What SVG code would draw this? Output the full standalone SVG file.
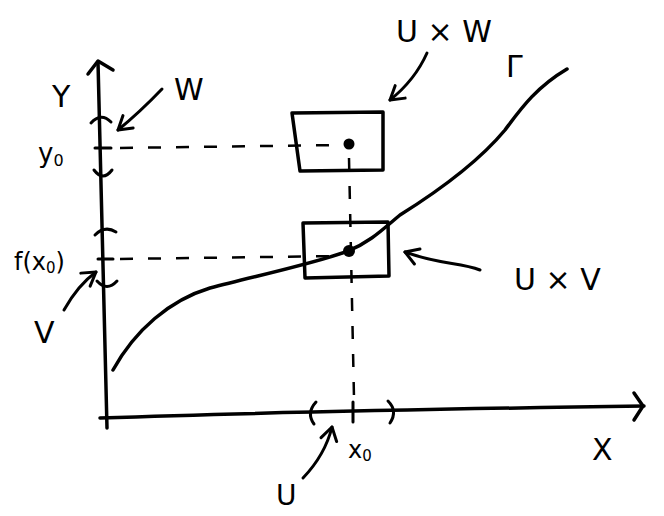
<svg xmlns="http://www.w3.org/2000/svg" width="664" height="516" viewBox="0 0 664 516">
<defs>
<style>
.ln{fill:none;stroke:#000;stroke-width:3.5;stroke-linecap:round;stroke-linejoin:round}
.th{fill:none;stroke:#000;stroke-width:3;stroke-linecap:round;stroke-linejoin:round}
.dash{fill:none;stroke:#000;stroke-width:2.5;stroke-dasharray:13 15}
.lbl{font-family:"DejaVu Sans","Liberation Sans",sans-serif;fill:#000}
.dot{fill:#000}
</style>
<marker id="chev" viewBox="0 0 20 20" refX="16" refY="10" markerWidth="20" markerHeight="20" markerUnits="userSpaceOnUse" orient="auto">
<path d="M3,2 L16,10 L3,18" fill="none" stroke="#000" stroke-width="3" stroke-linecap="round" stroke-linejoin="round"/>
</marker>
</defs>
<rect width="664" height="516" fill="#fff"/>

<g id="y-axis">
<path class="ln" d="M98,62 Q103,240 107,428"/>
<path class="ln" d="M88,74 L98,61 L113,70"/>
<path class="th" d="M91,123 Q101,112 111,122"/>
<path class="th" d="M95,148 H111"/>
<path class="th" d="M94,170 Q103,182 112,170"/>
<path class="th" d="M95,235 Q105,225 116,232"/>
<path class="th" d="M98,259 H113"/>
<path class="th" d="M97,281 Q107,292 117,281"/>
</g>

<g id="x-axis">
<path class="ln" d="M100,418 Q300,411 644,406"/>
<path class="ln" d="M634,393 L643,406 L634,420"/>
<path class="th" d="M316,402 Q306,413 314,424"/>
<path class="th" d="M388,401 Q398,411 390,423"/>
<path class="th" d="M353,402 V422"/>
</g>

<g id="curve-gamma">
<path class="ln" d="M113,370 C135,330 170,300 210,288 C260,275 320,262 348,251 C370,242 382,230 400,215 C440,190 480,160 505,130 C520,110 535,88 567,69"/>
</g>

<g id="box-UxW">
<path class="ln" d="M292,113 L383,112 L383,170 L300,171 Z"/>
<circle class="dot" cx="349" cy="144" r="5.5"/>
</g>

<g id="box-UxV">
<path class="ln" d="M303,223 L388,222 L389,276 L305,278 Z"/>
<circle class="dot" cx="349" cy="251" r="6"/>
</g>

<g id="connectors">
<path class="dash" d="M120,148 L342,145"/>
<path class="dash" d="M120,259 L342,256"/>
<path class="dash" d="M349,158 L354,398"/>
<path class="th" d="M162,89 Q140,112 118,130" marker-end="url(#chev)"/>
<path class="th" d="M427,53 Q415,80 390,100" marker-end="url(#chev)"/>
<path class="th" d="M480,270 C460,262 440,265 405,252" marker-end="url(#chev)"/>
<path class="th" d="M64,310 Q78,285 96,272" marker-end="url(#chev)"/>
<path class="th" d="M303,478 Q325,455 332,427" marker-end="url(#chev)"/>
</g>

<g id="labels">
<text class="lbl" x="52" y="107" font-size="30">Y</text>
<text class="lbl" x="174" y="100" font-size="30">W</text>
<text class="lbl" x="38" y="162" font-size="26">y<tspan font-size="16" dy="4">0</tspan></text>
<text class="lbl" x="14" y="270" font-size="24">f(x<tspan font-size="15" dy="3">0</tspan><tspan dy="-3">)</tspan></text>
<text class="lbl" x="34" y="343" font-size="30">V</text>
<text class="lbl" x="396" y="42" font-size="30">U × W</text>
<text class="lbl" x="506" y="77" font-size="30">Γ</text>
<text class="lbl" x="514" y="290" font-size="30">U × V</text>
<text class="lbl" x="592" y="460" font-size="30">X</text>
<text class="lbl" x="348" y="458" font-size="24">x<tspan font-size="15" dy="3">0</tspan></text>
<text class="lbl" x="276" y="505" font-size="28">U</text>
</g>
</svg>
